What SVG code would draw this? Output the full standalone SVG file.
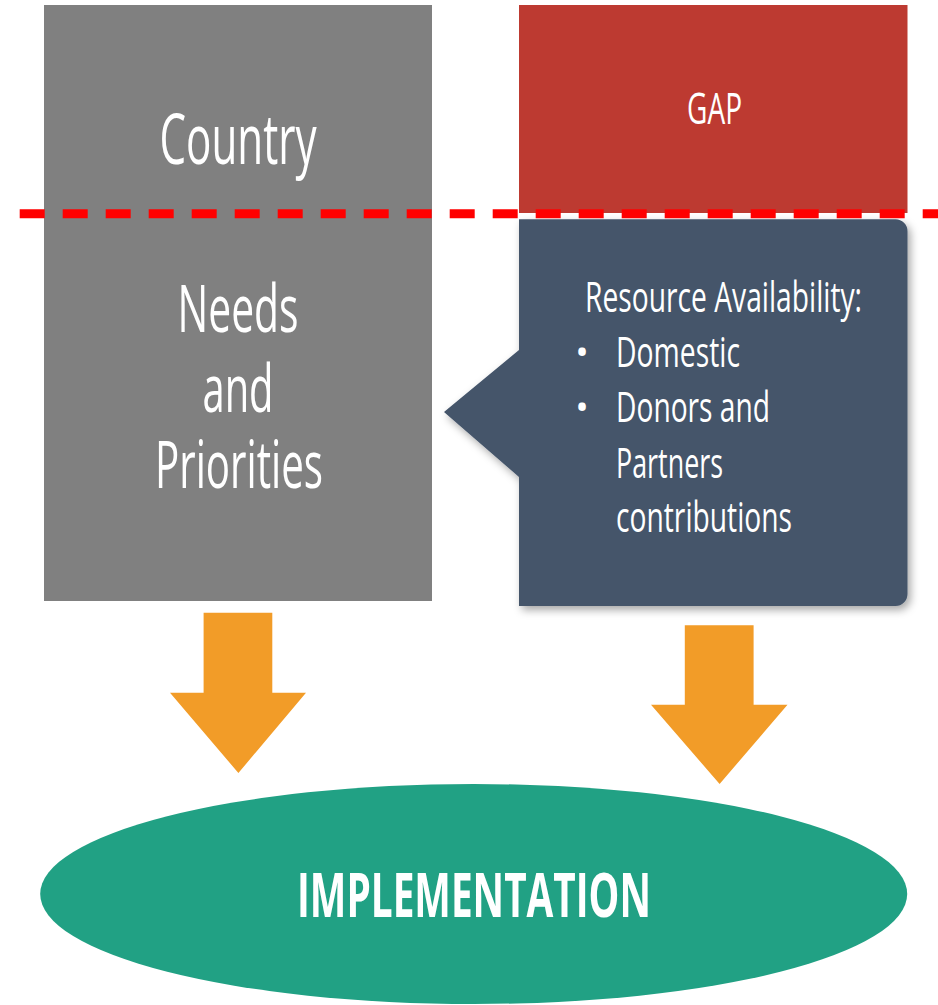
<svg xmlns="http://www.w3.org/2000/svg" width="938" height="1005" viewBox="0 0 938 1005">
  <style>
    .t { font-family: "Open Sans", "Noto Sans", "Liberation Sans", sans-serif; fill: #ffffff; }
    .arrow { fill: #F29C28; }
  </style>
  <defs>
    <filter id="shadow" x="-10%" y="-10%" width="125%" height="125%">
      <feDropShadow dx="3" dy="4" stdDeviation="4" flood-color="#000000" flood-opacity="0.35"/>
    </filter>
  </defs>
  <rect width="938" height="1005" fill="#ffffff"/>

  <g id="country">
    <rect x="44" y="5" width="388" height="596" fill="#808080"/>
    <text class="t" transform="translate(238,164) scale(1,1.556)" font-size="45" text-anchor="middle" textLength="157" lengthAdjust="spacingAndGlyphs">Country</text>
    <text class="t" transform="translate(238,332) scale(1,1.55)" font-size="42.5" text-anchor="middle" textLength="121" lengthAdjust="spacingAndGlyphs">Needs</text>
    <text class="t" transform="translate(238,412) scale(1,1.55)" font-size="42.5" text-anchor="middle" textLength="71" lengthAdjust="spacingAndGlyphs">and</text>
    <text class="t" transform="translate(239,488) scale(1,1.55)" font-size="42.5" text-anchor="middle" textLength="168" lengthAdjust="spacingAndGlyphs">Priorities</text>
  </g>

  <g id="gap">
    <rect x="519" y="5" width="388.5" height="208" fill="#BD3A31"/>
    <text class="t" transform="translate(714.5,124) scale(1,1.67)" font-size="26" text-anchor="middle" textLength="55" lengthAdjust="spacingAndGlyphs">GAP</text>
  </g>

  <g id="resources">
    <path d="M519,219.3 H895.5 A12,12 0 0 1 907.5,231.3 V594 A12,12 0 0 1 895.5,606 H519 V477 L444,412 L519,350 Z" fill="#44546A" filter="url(#shadow)"/>
    <text class="t" transform="translate(585,312) scale(1,1.4)" font-size="29.5" textLength="277" lengthAdjust="spacingAndGlyphs">Resource Availability:</text>
    <text class="t" x="582" y="365" font-size="36" text-anchor="middle">•</text>
    <text class="t" transform="translate(616,367) scale(1,1.4)" font-size="29.5" textLength="124" lengthAdjust="spacingAndGlyphs">Domestic</text>
    <text class="t" x="582" y="420" font-size="36" text-anchor="middle">•</text>
    <text class="t" transform="translate(616,422) scale(1,1.4)" font-size="29.5" textLength="154" lengthAdjust="spacingAndGlyphs">Donors and</text>
    <text class="t" transform="translate(616,478) scale(1,1.4)" font-size="29.5" textLength="107" lengthAdjust="spacingAndGlyphs">Partners</text>
    <text class="t" transform="translate(616,532) scale(1,1.4)" font-size="29.5" textLength="176" lengthAdjust="spacingAndGlyphs">contributions</text>
  </g>

  <g id="divider">
    <line x1="19.7" y1="213.7" x2="943" y2="213.7" stroke="#FF0000" stroke-width="9" stroke-dasharray="25 18"/>
  </g>

  <g id="implementation">
    <ellipse cx="473.7" cy="894" rx="433.5" ry="110" fill="#21A184"/>
    <text class="t" transform="translate(474,917) scale(1,1.57)" font-size="39.3" font-weight="bold" text-anchor="middle" textLength="354" lengthAdjust="spacingAndGlyphs">IMPLEMENTATION</text>
  </g>

  <g id="connectors">
    <polygon class="arrow" points="203.6,612.7 272.3,612.7 272.3,692.7 306,692.7 238.4,773 170,692.7 203.6,692.7"/>
    <polygon class="arrow" points="684.8,625.3 753.6,625.3 753.6,704.7 787.5,704.7 719.6,784 651,704.7 684.8,704.7"/>
  </g>
</svg>
